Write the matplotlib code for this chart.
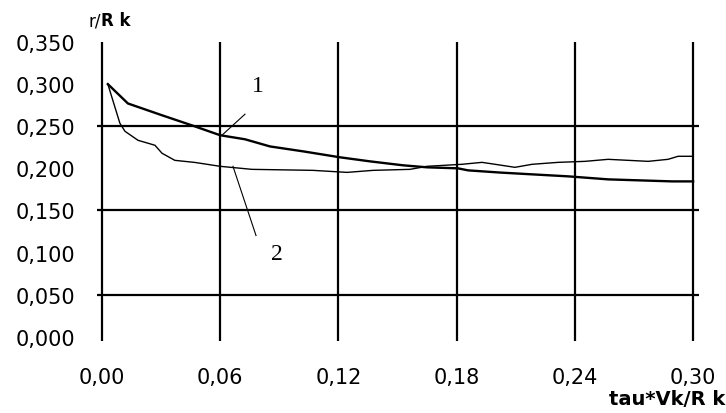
import matplotlib
matplotlib.use("Agg")
import matplotlib.pyplot as plt
import numpy as np

# curve 1 (thick) and curve 2 (thin)
x1 = [0.003, 0.0132, 0.0305, 0.0457, 0.060, 0.0726, 0.0853, 0.102, 0.1208, 0.136,
      0.1528, 0.165, 0.1807, 0.1858, 0.202, 0.218, 0.2365, 0.2569, 0.2893, 0.300]
y1 = [0.300, 0.277, 0.263, 0.251, 0.2393, 0.2345, 0.226, 0.2202, 0.2131, 0.2083,
      0.2036, 0.2012, 0.200, 0.1976, 0.195, 0.1929, 0.1905, 0.1869, 0.1845, 0.1845]

x2 = [0.003, 0.0091, 0.0117, 0.0183, 0.0269, 0.0305, 0.037, 0.0472, 0.060, 0.0761,
      0.1071, 0.1244, 0.1376, 0.1563, 0.165, 0.1827, 0.1929, 0.1995, 0.2096, 0.2183,
      0.2315, 0.2452, 0.2569, 0.2772, 0.2873, 0.2924, 0.300]
y2 = [0.300, 0.2536, 0.244, 0.2333, 0.2274, 0.2179, 0.2095, 0.207, 0.2024, 0.1988,
      0.1976, 0.1952, 0.1976, 0.1988, 0.2024, 0.2048, 0.2071, 0.2048, 0.2012, 0.2048,
      0.2071, 0.2083, 0.2107, 0.2083, 0.2107, 0.2143, 0.2143]

x_ticks = [0.00, 0.06, 0.12, 0.18, 0.24, 0.30]
x_labels = ["0,00", "0,06", "0,12", "0,18", "0,24", "0,30"]
y_ticks = [0.000, 0.050, 0.100, 0.150, 0.200, 0.250, 0.300, 0.350]
y_labels = ["0,000", "0,050", "0,100", "0,150", "0,200", "0,250", "0,300", "0,350"]
h_grid = [0.050, 0.150, 0.250]

fig = plt.figure(figsize=(7.26, 4.14), dpi=100)
ax = fig.add_axes([97 / 726, 72 / 414, 602 / 726, 299 / 414])
ax.set_xlim(-0.0025, 0.303)
ax.set_ylim(-0.005, 0.35)

for v in x_ticks:
    ax.axvline(v, color="black", lw=1.6, zorder=1)
for h in h_grid:
    ax.axhline(h, color="black", lw=1.6, zorder=1)

ax.plot(x1, y1, color="black", lw=1.7, zorder=3)
ax.plot(x2, y2, color="black", lw=1.0, zorder=3)

# leader lines and curve numbers
ax.plot([0.0726, 0.0609], [0.2643, 0.2393], color="black", lw=0.8)
ax.plot([0.0665, 0.0782], [0.2024, 0.1202], color="black", lw=0.8)
ax.text(0.0792, 0.298, "1", family="Liberation Serif", fontsize=17, ha="center", va="center")
ax.text(0.0888, 0.0988, "2", family="Liberation Serif", fontsize=17, ha="center", va="center")

for s in ax.spines.values():
    s.set_visible(False)
ax.set_xticks(x_ticks, x_labels)
ax.set_yticks(y_ticks, y_labels)
ax.tick_params(axis="both", length=0, labelsize=15)
ax.tick_params(axis="y", pad=16)
ax.tick_params(axis="x", pad=19)

# axis titles: "r/" plain, "R k" bold
t = fig.text(88 / 726, 1 - 21 / 414, "r/", fontsize=12, ha="left", va="center")
fig.canvas.draw()
bb = t.get_window_extent()
fig.text(bb.x1 / 726, 1 - 21 / 414, "R k", fontsize=12, fontweight="bold", ha="left", va="center")
fig.text(725 / 726, 1 - 400 / 414, "tau*Vk/R k", fontsize=14, fontweight="bold",
         ha="right", va="center")

fig.savefig("out.png", dpi=100)
